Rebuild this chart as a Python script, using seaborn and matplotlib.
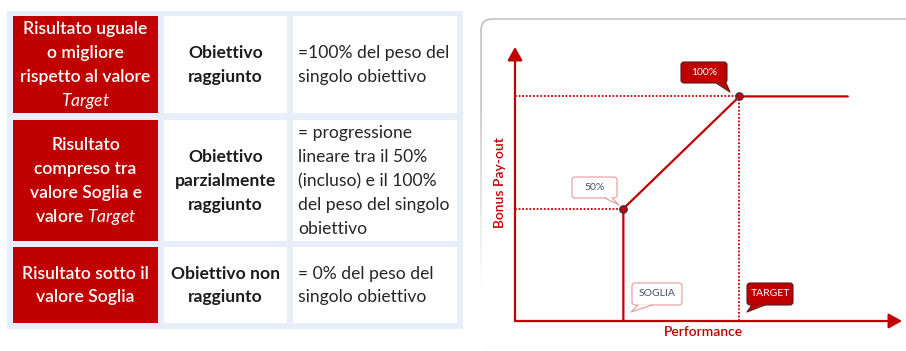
import matplotlib
matplotlib.use("Agg")
import matplotlib.pyplot as plt
import seaborn as sns
import numpy as np
import pandas as pd
from matplotlib.patches import Rectangle, FancyBboxPatch, Polygon

# Table text
esiti = [["Risultato uguale", "o migliore", "rispetto al valore", r"$\it{Target}$"],
         ["Risultato", "compreso tra", "valore Soglia e", r"valore $\it{Target}$"],
         ["Risultato sotto il", "valore Soglia"]]
stati = [["Obiettivo", "raggiunto"],
         ["Obiettivo", "parzialmente", "raggiunto"],
         ["Obiettivo non", "raggiunto"]]
bonus = [["=100% del peso del", "singolo obiettivo"],
         ["= progressione", "lineare tra il 50%", "(incluso) e il 100%", "del peso del singolo", "obiettivo"],
         ["= 0% del peso del", "singolo obiettivo"]]

# Chart values
livelli = ["SOGLIA", "TARGET"]
performance = [28, 58]      # position on the performance axis
payout = [50, 100]          # bonus pay-out in %
payout_labels = ["50%", "100%"]
perf_max = 86

RED = "#c00000"
BLUE_BG = "#e7eef9"

sns.set_theme(style="white")
plt.rcParams["font.family"] = ["Lato", "DejaVu Sans"]
plt.rcParams["mathtext.fontset"] = "custom"
plt.rcParams["mathtext.it"] = "Lato:italic"
plt.rcParams["mathtext.rm"] = "Lato"

fig = plt.figure(figsize=(9.06, 3.51), dpi=100)
bg = fig.add_axes([0, 0, 1, 1])
bg.set_xlim(0, 906)
bg.set_ylim(351, 0)
bg.axis("off")

# ---- table on the left
col_x = [(13, 158), (164, 287), (293, 457)]
row_y = [(16, 113), (120, 241), (247, 323)]
bg.add_patch(Rectangle((7, 11), 456, 318, fc=BLUE_BG, ec="none"))
step = 23.8
fs = 12.6
for r, (y0, y1) in enumerate(row_y):
    for c, (x0, x1) in enumerate(col_x):
        bg.add_patch(Rectangle((x0, y0), x1 - x0, y1 - y0,
                               fc=RED if c == 0 else "white", ec="none"))
    yc = (y0 + y1) / 2
    for c, lines in enumerate([esiti[r], stati[r], bonus[r]]):
        n = len(lines)
        for i, line in enumerate(lines):
            yb = yc + (i - (n - 1) / 2) * step + 5.5
            if c == 0:
                bg.text((col_x[0][0] + col_x[0][1]) / 2, yb, line, ha="center", va="baseline",
                        color="white", fontsize=fs, fontweight="semibold")
            elif c == 1:
                bg.text((col_x[1][0] + col_x[1][1]) / 2, yb, line, ha="center", va="baseline",
                        color="#1c1c1c", fontsize=fs, fontweight="bold")
            else:
                bg.text(col_x[2][0] + 5, yb, line, ha="left", va="baseline",
                        color="#262626", fontsize=fs)

# ---- chart panel on the right
bg.add_patch(FancyBboxPatch((481, 19), 450, 328, boxstyle="round,pad=0,rounding_size=11",
                            fc="white", ec="#b0b0b0", lw=0.9))
# border fades out towards the bottom
fade = np.ones((100, 1, 4))
fade[:, 0, 3] = np.clip(np.linspace(-0.3, 1.3, 100), 0, 1)
bg.imshow(fade, extent=(477, 486, 351, 40), aspect="auto", zorder=2)
bg.add_patch(Rectangle((477, 343), 430, 8, fc="white", ec="none", alpha=0.92, zorder=2))
bg.set_xlim(0, 906)
bg.set_ylim(351, 0)

ax = fig.add_axes([515 / 906, 30 / 351, 387 / 906, 274 / 351])
ax.set_xlim(0, 100)
ax.set_ylim(0, 122)
ax.patch.set_alpha(0)
for s in ax.spines.values():
    s.set_visible(False)

# dotted guides
for x, y in zip(performance, payout):
    ax.plot([0, x], [y, y], ls=(0, (1, 1)), color=RED, lw=1.3)
ax.plot([performance[1], performance[1]], [0, payout[1]], ls=(0, (1, 1)), color=RED, lw=1.3)

curve = pd.DataFrame({"perf": [performance[0], performance[0], performance[1], perf_max],
                      "pay": [0, payout[0], payout[1], payout[1]]})
sns.lineplot(data=curve, x="perf", y="pay", sort=False, estimator=None,
             color=RED, lw=1.6, ax=ax)
sns.scatterplot(x=performance, y=payout, s=30, color=RED, edgecolor="#2b3a67",
                linewidth=0.8, ax=ax, zorder=5)
ax.set_xticks([])
ax.set_yticks([])
ax.set_xlabel("")
ax.set_ylabel("")

# axes arrows
arrow = dict(arrowstyle="-|>,head_length=0.8,head_width=0.45", color=RED, lw=1.6,
             shrinkA=0, shrinkB=0, mutation_scale=10)
ax.annotate("", xy=(1, 0), xytext=(0, 0), xycoords="axes fraction", arrowprops=arrow)
ax.annotate("", xy=(0, 1), xytext=(0, 0), xycoords="axes fraction", arrowprops=arrow)

ax.text(0.486, -0.04, "Performance", transform=ax.transAxes, ha="center", va="center",
        color=RED, fontsize=10, fontweight="semibold")
ax.text(-0.04, 0.504, "Bonus Pay-out", transform=ax.transAxes, ha="center", va="center",
        rotation=90, color=RED, fontsize=10, fontweight="semibold")


def callout(x0, y0, w, h, base, tip, label, filled):
    fc = RED if filled else "white"
    ec = "#5a1a1a" if filled else "#e59a9a"
    tc = "white" if filled else "#44526b"
    bg.add_patch(FancyBboxPatch((x0, y0), w, h, boxstyle="round,pad=0,rounding_size=3",
                                fc=fc, ec=ec, lw=0.8, zorder=6))
    yb = y0 + h - 0.6
    bg.add_patch(Polygon([(base[0], yb), (base[1], yb), tip], closed=True,
                         fc=fc, ec="none", zorder=7))
    bg.plot([base[0], tip[0], base[1]], [yb + 0.6, tip[1], yb + 0.6], color=ec, lw=0.8, zorder=7)
    bg.text(x0 + w / 2, y0 + h / 2, label, ha="center", va="center",
            color=tc, fontsize=7.5, zorder=8)


callout(572, 177, 45, 21, (605, 612), (619, 205), payout_labels[0], False)
callout(681, 62, 46, 21, (716, 726), (730, 92), payout_labels[1], True)
callout(632, 283, 50, 22, (638, 652), (631, 312), livelli[0], False)
callout(747, 283, 46, 22, (752, 765), (747, 312), livelli[1], True)

fig.savefig("out.png", dpi=100)
